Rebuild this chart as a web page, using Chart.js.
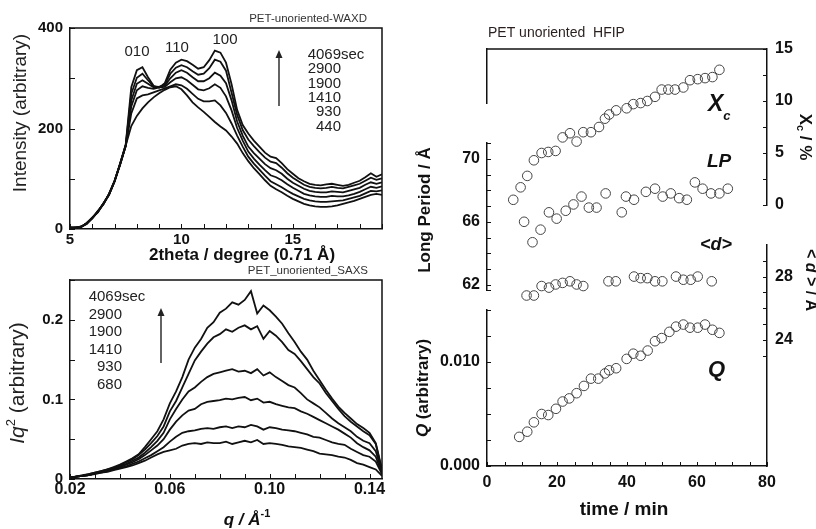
<!DOCTYPE html>
<html lang="en">
<head>
<meta charset="UTF-8">
<title>PET unoriented - WAXD / SAXS / HFIP</title>
<script src="https://cdn.jsdelivr.net/npm/chart.js"></script>
<style>
    body {
        margin: 0;
        background: #fff;
        width: 816px;
        height: 529px;
        position: relative;
        overflow: hidden;
    }
    canvas { position: absolute; }
    #waxd { left: 0; top: 0; }
    #saxs { left: 0; top: 262px; }
    #hfip { left: 400px; top: 0; }
</style>
</head>
<body>
<canvas id="waxd" width="400" height="270"></canvas>
<canvas id="saxs" width="400" height="267"></canvas>
<canvas id="hfip" width="416" height="529"></canvas>

<script>
// ---------- WAXD (top left): intensity vs 2theta, one curve per time ----------
const twoTheta = [5, 5.25, 5.5, 5.75, 6, 6.25, 6.5, 6.75, 7, 7.25, 7.5, 7.75, 8, 8.25, 8.5, 8.75, 9, 9.25, 9.5, 9.75,
    10, 10.25, 10.5, 10.75, 11, 11.25, 11.5, 11.75, 12, 12.25, 12.5, 12.75, 13, 13.25, 13.5, 13.75, 14, 14.25, 14.5, 14.75,
    15, 15.25, 15.5, 15.75, 16, 16.25, 16.5, 16.75, 17, 17.25, 17.5, 17.75, 18, 18.25, 18.5, 18.75, 19];
const waxd4069 = [3, 1, 4, 10, 22, 34, 50, 70, 96, 131, 168, 282, 316, 322, 302, 285, 281, 290, 317, 331,
    337, 334, 327, 319, 322, 336, 355, 351, 331, 288, 237, 207, 190, 176, 164, 152, 144, 141, 131, 119,
    110, 101, 95, 90, 88, 87, 89, 90, 88, 86, 88, 92, 96, 103, 111, 104, 109];
const waxd2900 = [3, 2, 5, 11, 21, 35, 50, 68, 95, 129, 167, 269, 301, 309, 296, 284, 283, 287, 309, 321,
    326, 322, 314, 307, 309, 320, 337, 333, 315, 271, 227, 197, 178, 165, 153, 142, 134, 131, 122, 111,
    102, 95, 88, 84, 82, 81, 82, 84, 82, 81, 84, 87, 90, 96, 102, 98, 101];
const waxd1900 = [2, 3, 4, 12, 23, 33, 51, 69, 94, 130, 165, 256, 289, 296, 289, 282, 283, 285, 300, 311,
    316, 311, 302, 294, 294, 300, 311, 305, 290, 256, 214, 186, 164, 151, 140, 129, 121, 117, 110, 100,
    92, 86, 80, 76, 74, 73, 73, 75, 74, 73, 76, 79, 82, 88, 93, 90, 93];
const waxd1410 = [3, 2, 5, 11, 22, 36, 49, 70, 96, 129, 166, 244, 276, 284, 281, 279, 282, 283, 292, 300,
    302, 296, 287, 278, 276, 280, 288, 281, 264, 236, 201, 176, 154, 140, 128, 117, 107, 103, 97, 89,
    82, 76, 70, 67, 65, 64, 64, 66, 65, 65, 67, 70, 74, 79, 84, 82, 85];
const waxd930 = [2, 3, 4, 12, 21, 35, 51, 68, 95, 128, 165, 230, 260, 266, 268, 272, 276, 280, 284, 288,
    286, 279, 269, 259, 254, 254, 256, 246, 231, 210, 186, 164, 144, 130, 118, 106, 95, 89, 83, 76,
    70, 65, 60, 57, 55, 54, 54, 55, 56, 57, 60, 63, 66, 71, 76, 75, 77];
const waxd440 = [2, 3, 4, 11, 22, 34, 51, 68, 95, 130, 166, 205, 225, 240, 252, 262, 270, 277, 282, 284,
    278, 266, 252, 242, 233, 223, 213, 204, 196, 184, 170, 151, 135, 121, 109, 97, 86, 79, 73, 66,
    60, 55, 50, 47, 45, 44, 44, 45, 47, 50, 53, 56, 60, 64, 68, 70, 68];
const waxdTimes = [4069, 2900, 1900, 1410, 930, 440];
const waxdPeaks = ['010', '110', '100'];

// ---------- SAXS (bottom left): Iq^2 vs q ----------
const qSaxs = [0.02, 0.0225, 0.025, 0.0275, 0.03, 0.0325, 0.035, 0.0375, 0.04, 0.0425, 0.045, 0.0475, 0.05, 0.0525,
    0.055, 0.0575, 0.06, 0.0625, 0.065, 0.0675, 0.07, 0.0725, 0.075, 0.0775, 0.08, 0.0825, 0.085, 0.0875, 0.09,
    0.0925, 0.095, 0.0975, 0.1, 0.1025, 0.105, 0.1075, 0.11, 0.1125, 0.115, 0.1175, 0.12, 0.1225, 0.125, 0.1275,
    0.13, 0.1325, 0.135, 0.1375, 0.14, 0.1425, 0.145];
const saxs4069 = [.002, .003, .005, .006, .008, .010, .012, .015, .018, .022,
    .026, .031, .040, .050, .060, .075, .095, .110, .128, .150,
    .165, .176, .190, .197, .209, .214, .222, .219, .225, .236,
    .208, .218, .212, .204, .195, .183, .172, .160, .150, .136,
    .124, .112, .101, .091, .083, .076, .069, .064, .058, .045, .012];
const saxs2900 = [.002, .003, .004, .006, .008, .010, .012, .014, .017, .021,
    .025, .030, .037, .045, .054, .066, .085, .098, .115, .132,
    .149, .160, .170, .178, .182, .188, .185, .190, .193, .188,
    .192, .176, .186, .180, .172, .162, .157, .148, .138, .128,
    .120, .108, .098, .088, .079, .072, .066, .060, .055, .044, .010];
const saxs1900 = [.002, .003, .004, .005, .007, .009, .011, .013, .016, .019,
    .023, .027, .033, .040, .048, .058, .075, .088, .100, .110,
    .115, .122, .128, .132, .134, .136, .138, .135, .136, .133,
    .138, .130, .134, .128, .123, .118, .115, .108, .100, .095,
    .090, .083, .076, .070, .065, .060, .053, .048, .045, .035, .009];
const saxs1410 = [.002, .003, .004, .005, .007, .009, .011, .013, .015, .018,
    .021, .025, .030, .036, .042, .050, .062, .072, .080, .086,
    .088, .094, .097, .098, .099, .101, .100, .102, .103, .099,
    .101, .096, .097, .094, .092, .090, .089, .085, .082, .078,
    .074, .070, .066, .062, .057, .052, .045, .040, .036, .028, .007];
const saxs930 = [.002, .003, .004, .005, .007, .008, .010, .012, .014, .016,
    .019, .022, .026, .030, .035, .040, .047, .053, .058, .060,
    .061, .063, .064, .063, .065, .066, .064, .066, .065, .068,
    .066, .062, .065, .064, .062, .061, .060, .058, .056, .053,
    .052, .049, .046, .044, .043, .038, .034, .030, .028, .022, .006];
const saxs680 = [.002, .003, .004, .005, .006, .008, .009, .011, .013, .015,
    .017, .020, .023, .027, .031, .034, .036, .038, .042, .044,
    .045, .044, .046, .045, .045, .047, .044, .046, .048, .046,
    .049, .044, .045, .044, .043, .041, .040, .039, .037, .035,
    .032, .031, .030, .028, .027, .024, .020, .018, .015, .012, .004];
const saxsTimes = [4069, 2900, 1900, 1410, 930, 680];

// ---------- HFIP (right): Xc, long period, <d>, invariant Q vs time ----------
const timeXc = [7.5, 9.6, 11.5, 13.4, 15.6, 17.5, 19.6, 21.6, 23.7, 25.6, 27.5, 29.7, 32.0, 33.7, 34.9,
    36.9, 39.9, 41.8, 43.9, 45.8, 48.0, 49.9, 51.8, 53.7, 56.1, 58.0, 60.2, 62.3, 64.4, 66.4];
const crystallinity = [0.5, 1.7, 2.8, 4.3, 5.0, 5.1, 5.2, 6.5, 6.9, 6.1, 7.0, 7.0, 7.5, 8.3, 8.7,
    9.1, 9.3, 9.7, 9.8, 10.0, 10.4, 11.1, 11.1, 11.1, 11.3, 12.0, 12.1, 12.2, 12.3, 13.0];
const timeLp = [10.6, 13.0, 15.3, 17.7, 19.9, 22.5, 24.7, 27.0, 29.1, 31.3, 33.9, 38.5, 39.7, 42.0,
    45.4, 48.0, 50.2, 52.5, 54.9, 57.1, 59.4, 61.6, 64.0, 66.4, 68.8];
const longPeriod = [66.0, 64.7, 65.5, 66.6, 66.2, 66.7, 67.1, 67.6, 66.9, 66.9, 67.8, 66.6, 67.6, 67.4,
    67.9, 68.1, 67.6, 67.8, 67.5, 67.4, 68.5, 68.1, 67.8, 67.8, 68.1];
const timeD = [11.3, 13.4, 15.6, 17.7, 19.6, 21.6, 23.7, 25.6, 27.5, 34.7, 36.8, 42.0, 43.9, 45.8,
    48.0, 50.1, 54.0, 56.1, 58.2, 60.2, 64.2];
const lamellaD = [26.8, 26.8, 27.4, 27.3, 27.5, 27.6, 27.7, 27.5, 27.4, 27.7, 27.7, 28.0, 27.9, 27.9,
    27.7, 27.7, 28.0, 27.8, 27.8, 28.0, 27.7];
const timeQ = [9.2, 11.5, 13.4, 15.6, 17.5, 19.7, 21.6, 23.5, 25.6, 27.7, 29.7, 31.8, 33.7, 34.9, 36.9,
    39.9, 41.8, 43.9, 45.9, 48.0, 49.9, 52.1, 54.0, 56.1, 58.0, 60.2, 62.3, 64.4, 66.4];
const invariantQ = [0.0028, 0.0033, 0.0042, 0.0050, 0.0049, 0.0055, 0.0062, 0.0065, 0.0070, 0.0077,
    0.0084, 0.0084, 0.0089, 0.0092, 0.0094, 0.0103, 0.0108, 0.0106, 0.0111, 0.0120, 0.0123, 0.0129,
    0.0134, 0.0136, 0.0133, 0.0133, 0.0136, 0.0131, 0.0128];

// tick labels that get a number (other ticks are only marks)
const waxdXLabels = [5, 10, 15];
const waxdYLabels = [0, 200, 400];
const saxsXLabels = [0.02, 0.06, 0.10, 0.14];
const saxsYLabels = [0, 0.1, 0.2];
const timeLabels = [0, 20, 40, 60, 80];
const xcLabels = [0, 5, 10, 15];
const lpLabels = [62, 66, 70];
const dLabels = [24, 28];
const qLabels = [0, 0.010];

const FONT = "'Liberation Sans', Arial, Helvetica, sans-serif";
const INK = '#111';

function f(size, style) {
    return (style || '') + ' ' + size + 'px ' + FONT;
}

function pick(list, fmt) {
    return (v) => list.some(l => Math.abs(l - v) < 1e-9) ? fmt(v) : '';
}

// linear axis, labels only on a few ticks; tick marks are drawn inward by the overlay
function axis(o) {
    return {
        type: 'linear',
        position: o.position,
        min: o.min,
        max: o.max,
        stack: o.stack,
        stackWeight: o.stackWeight,
        weight: o.weight,
        ticks: {
            stepSize: o.step,
            autoSkip: false,
            maxRotation: 0,
            includeBounds: false,
            padding: o.pad,
            color: INK,
            font: { family: FONT, size: o.size, weight: 'bold' },
            callback: pick(o.labels, o.fmt || (v => v))
        },
        grid: { drawOnChartArea: false, drawTicks: false, tickLength: 0, color: INK },
        border: { color: INK, width: 1.5 },
        afterBuildTicks: o.afterBuildTicks,
        afterFit: o.fit
    };
}

// tick marks pointing into the plot, at every tick of every visible axis
function inwardTicks(chart, len) {
    const ctx = chart.ctx;
    ctx.strokeStyle = INK;
    ctx.lineWidth = 1;
    ctx.beginPath();
    for (const s of Object.values(chart.scales)) {
        if (!s.options.display || !s.options.grid.display) continue;
        const marks = s.ticks.map(t => s.getPixelForValue(t.value));
        if (s.id === 'lp') marks.push(s.bottom);
        for (const p of marks) {
            const v = Math.round(p) + 0.5;
            if (s.position === 'left') { ctx.moveTo(s.right, v); ctx.lineTo(s.right + len, v); }
            else if (s.position === 'right') { ctx.moveTo(s.left, v); ctx.lineTo(s.left - len, v); }
            else { ctx.moveTo(v, s.top); ctx.lineTo(v, s.top - len); }
        }
    }
    ctx.stroke();
}

// plain text runs, optionally rotated; parts = [text, font, dy]
function txt(ctx, parts, x, y, rot, align, color) {
    ctx.save();
    ctx.translate(x, y);
    ctx.rotate(rot || 0);
    ctx.fillStyle = color || INK;
    ctx.textBaseline = 'middle';
    let w = 0;
    for (const p of parts) { ctx.font = p[1]; w += ctx.measureText(p[0]).width; }
    let cx = align === 'left' ? 0 : align === 'right' ? -w : -w / 2;
    for (const p of parts) {
        ctx.font = p[1];
        ctx.fillText(p[0], cx, p[2] || 0);
        cx += ctx.measureText(p[0]).width;
    }
    ctx.restore();
}

function arrow(ctx, x, yFrom, yTo) {
    ctx.strokeStyle = '#222';
    ctx.fillStyle = '#222';
    ctx.lineWidth = 1.4;
    ctx.beginPath();
    ctx.moveTo(x, yFrom);
    ctx.lineTo(x, yTo + 6);
    ctx.stroke();
    ctx.beginPath();
    ctx.moveTo(x, yTo);
    ctx.lineTo(x - 3.5, yTo + 8);
    ctx.lineTo(x + 3.5, yTo + 8);
    ctx.closePath();
    ctx.fill();
}

function frame(ctx, a, right) {
    ctx.strokeStyle = INK;
    ctx.lineWidth = 1.5;
    ctx.beginPath();
    ctx.moveTo(a.left, a.top);
    ctx.lineTo(a.right, a.top);
    if (right) ctx.lineTo(a.right, a.bottom);
    ctx.stroke();
}

function overlay(tickLen, draw) {
    return {
        id: 'overlay',
        afterDraw(chart) {
            const ctx = chart.ctx;
            ctx.save();
            inwardTicks(chart, tickLen);
            draw(ctx, chart.chartArea);
            ctx.restore();
        }
    };
}

function curve(xs, ys) {
    return {
        data: xs.map((x, i) => ({ x: x, y: ys[i] })),
        borderColor: INK,
        borderWidth: 1.8,
        pointRadius: 0,
        tension: 0,
        fill: false
    };
}

function dots(xs, ys, axisId) {
    return {
        data: xs.map((x, i) => ({ x: x, y: ys[i] })),
        yAxisID: axisId,
        pointStyle: 'circle',
        pointRadius: 4.8,
        borderWidth: 1,
        borderColor: '#444',
        backgroundColor: 'rgba(255,255,255,0)',
        showLine: false
    };
}

const base = {
    responsive: false,
    animation: false,
    devicePixelRatio: 1,
    plugins: { legend: { display: false }, tooltip: { enabled: false } }
};

// ---- WAXD chart ----
new Chart(document.getElementById('waxd'), {
    type: 'line',
    data: {
        datasets: [waxd4069, waxd2900, waxd1900, waxd1410, waxd930, waxd440].map(v => curve(twoTheta, v))
    },
    options: Object.assign({}, base, {
        layout: { padding: { top: 28, right: 18, left: 0, bottom: 0 } },
        scales: {
            x: axis({ position: 'bottom', min: 5, max: 19, step: 1, labels: waxdXLabels, pad: 2, size: 15,
                fit: s => { s.height = 41; } }),
            y: axis({ position: 'left', min: 0, max: 400, step: 100, labels: waxdYLabels, pad: 7, size: 15,
                fit: s => { s.width = 70; } })
        }
    }),
    plugins: [overlay(5, (ctx, a) => {
        frame(ctx, a, true);
        txt(ctx, [['PET-unoriented-WAXD', f(11.5)]], 367, 19, 0, 'right', '#333');
        txt(ctx, [[waxdPeaks[0], f(15)]], 137, 52, 0, 'center', '#222');
        txt(ctx, [[waxdPeaks[1], f(15)]], 177, 48, 0, 'center', '#222');
        txt(ctx, [[waxdPeaks[2], f(15)]], 225, 40, 0, 'center', '#222');
        waxdTimes.forEach((t, i) => {
            txt(ctx, [[String(t), f(15)]], 341, 55 + i * 14.3, 0, 'right', '#222');
        });
        txt(ctx, [['sec', f(15)]], 341, 55, 0, 'left', '#222');
        arrow(ctx, 279, 106, 50);
        txt(ctx, [['Intensity (arbitrary)', f(19)]], 21, 113, -Math.PI / 2, 'center', '#222');
        txt(ctx, [['2theta / degree (0.71 Å)', f(17, 'bold')]], 242, 255, 0, 'center', INK);
    })]
});

// ---- SAXS chart ----
new Chart(document.getElementById('saxs'), {
    type: 'line',
    data: {
        datasets: [saxs4069, saxs2900, saxs1900, saxs1410, saxs930, saxs680].map(v => curve(qSaxs, v))
    },
    options: Object.assign({}, base, {
        layout: { padding: { top: 18, right: 18, left: 0, bottom: 0 } },
        scales: {
            x: axis({ position: 'bottom', min: 0.02, max: 0.145, step: 0.01, labels: saxsXLabels, pad: 1, size: 16,
                fmt: v => v.toFixed(2), fit: s => { s.height = 50; } }),
            y: axis({ position: 'left', min: 0, max: 0.25, step: 0.05, labels: saxsYLabels, pad: 7, size: 15,
                fmt: v => (v === 0 ? '0' : v.toFixed(1)), fit: s => { s.width = 70; } })
        }
    }),
    plugins: [overlay(5, (ctx, a) => {
        frame(ctx, a, true);
        txt(ctx, [['PET_unoriented_SAXS', f(11.5)]], 368, 9, 0, 'right', '#333');
        saxsTimes.forEach((t, i) => {
            txt(ctx, [[String(t), f(15)]], 122, 35 + i * 17.5, 0, 'right', '#222');
        });
        txt(ctx, [['sec', f(15)]], 122, 35, 0, 'left', '#222');
        arrow(ctx, 161, 101, 46);
        txt(ctx, [['Iq', f(21, 'italic')], ['2', f(13), -7], [' (arbitrary)', f(21)]], 18, 121, -Math.PI / 2, 'center', '#222');
        txt(ctx, [['q / Å', f(17, 'italic bold')], ['-1', f(11, 'bold'), -6]], 247, 258, 0, 'center', INK);
    })]
});

// ---- HFIP chart: stacked y axis segments on both sides ----
new Chart(document.getElementById('hfip'), {
    type: 'scatter',
    data: {
        datasets: [
            dots(timeXc, crystallinity, 'xc'),
            dots(timeLp, longPeriod, 'lp'),
            dots(timeD, lamellaD, 'dd'),
            dots(timeQ, invariantQ, 'qq')
        ]
    },
    options: Object.assign({}, base, {
        layout: { padding: { top: 49, right: 0, left: 0, bottom: 0 } },
        scales: {
            x: axis({ position: 'bottom', min: 0, max: 80, step: 5, labels: timeLabels, pad: 7, size: 16,
                fit: s => { s.height = 63; } }),
            // left stack, top to bottom
            topL: {
                type: 'linear', position: 'left', stack: 'L', stackWeight: 54, weight: 5,
                ticks: { display: false }, grid: { display: false },
                border: { color: INK, width: 1.5 },
                afterFit: s => { s.width = 87; }
            },
            gapL1: { type: 'linear', position: 'left', stack: 'L', stackWeight: 40, weight: 4, display: false },
            lp: axis({ position: 'left', stack: 'L', stackWeight: 147, weight: 3, min: 61.67, max: 71, step: 1,
                labels: lpLabels, pad: 7, size: 16, fit: s => { s.width = 87; } }),
            gapL2: { type: 'linear', position: 'left', stack: 'L', stackWeight: 20, weight: 2, display: false },
            qq: axis({ position: 'left', stack: 'L', stackWeight: 156, weight: 1, min: 0, max: 0.015, step: 0.0025,
                labels: qLabels, pad: 7, size: 16, fmt: v => v.toFixed(3), fit: s => { s.width = 87; } }),
            // right stack, top to bottom
            xc: axis({ position: 'right', stack: 'R', stackWeight: 156, weight: 1, min: 0, max: 15, step: 2.5,
                labels: xcLabels, pad: 8, size: 16, fit: s => { s.width = 49; } }),
            gapR: { type: 'linear', position: 'right', stack: 'R', stackWeight: 40, weight: 2, display: false },
            dd: axis({ position: 'right', stack: 'R', stackWeight: 221, weight: 3, min: 16, max: 30, step: 1,
                labels: dLabels, pad: 8, size: 16, fit: s => { s.width = 49; },
                afterBuildTicks: s => { s.ticks = s.ticks.filter(t => t.value >= 23 && t.value <= 29); } })
        }
    }),
    plugins: [overlay(4, (ctx, a) => {
        frame(ctx, a, false);
        txt(ctx, [['PET unoriented  HFIP', f(14)]], 88, 33, 0, 'left', '#2a1f1f');
        txt(ctx, [['X', f(23, 'italic bold')], ['c', f(13, 'italic bold'), 11]], 308, 105, 0, 'left', INK);
        txt(ctx, [['LP', f(19, 'italic bold')]], 307, 162, 0, 'left', INK);
        txt(ctx, [['<d>', f(18, 'italic bold')]], 300, 245, 0, 'left', INK);
        txt(ctx, [['Q', f(22, 'italic bold')]], 308, 370, 0, 'left', INK);
        txt(ctx, [['Long Period / Å', f(17, 'bold')]], 25, 210, -Math.PI / 2, 'center', INK);
        txt(ctx, [['Q', f(17, 'italic bold')], [' (arbitrary)', f(17, 'bold')]], 23, 388, -Math.PI / 2, 'center', INK);
        txt(ctx, [['X', f(17, 'bold')], ['c', f(11, 'bold'), 5], [' / %', f(17, 'bold')]], 405, 137, Math.PI / 2, 'center', INK);
        txt(ctx, [['< ', f(16, 'bold')], ['d', f(16, 'italic bold')], [' > / Å', f(16, 'bold')]], 410, 280, Math.PI / 2, 'center', INK);
        txt(ctx, [['time / min', f(19, 'bold')]], 224, 510, 0, 'center', INK);
    })]
});
</script>
</body>
</html>
